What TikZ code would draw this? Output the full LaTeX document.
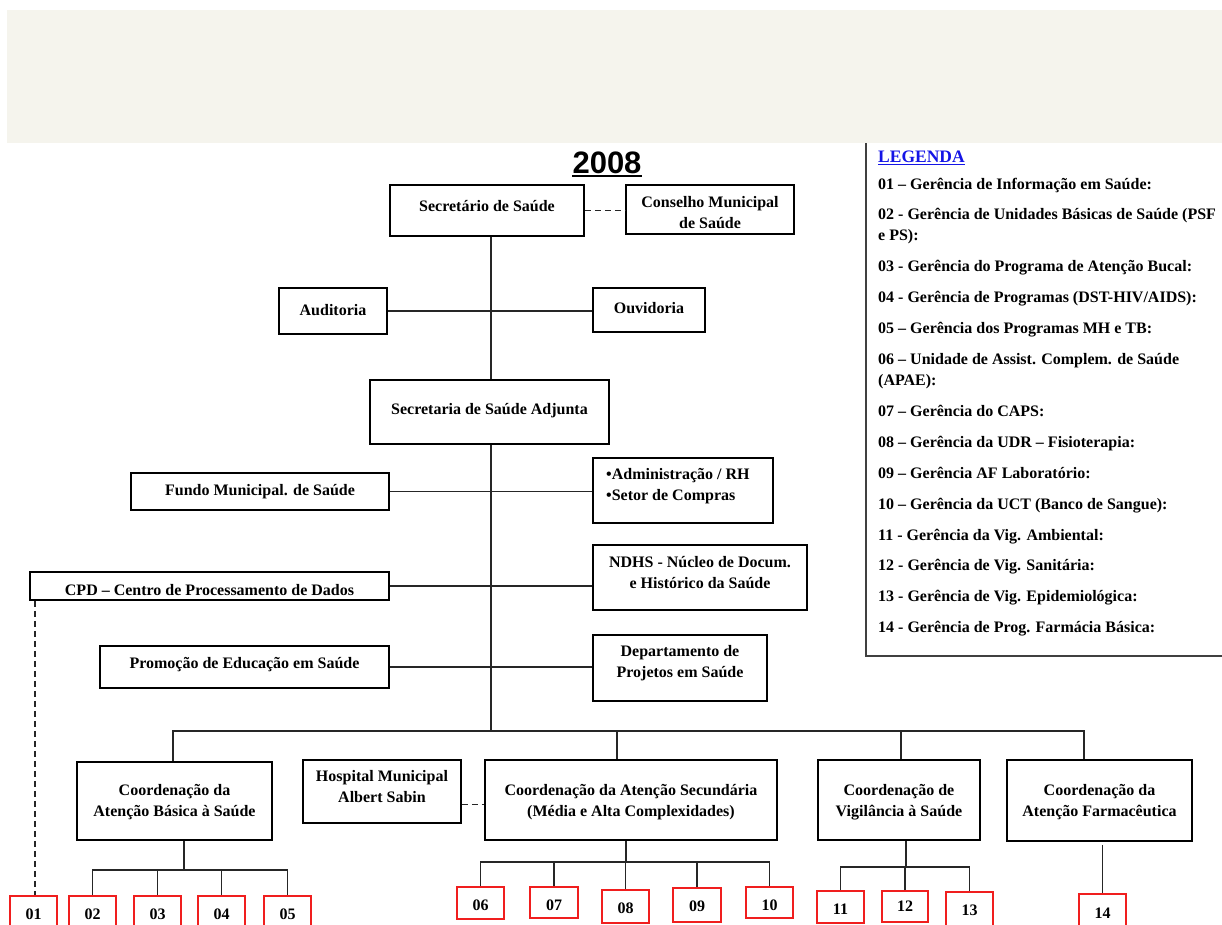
\documentclass[tikz,border=0pt]{standalone}
\usepackage{fontspec}
\setmainfont{Liberation Serif}
\newfontfamily\yearfont{Liberation Sans}
\definecolor{band}{RGB}{245,244,237}
\definecolor{legblue}{RGB}{20,20,230}
\definecolor{boxred}{RGB}{240,30,30}
% #1 style, #2 name, #3 x1, #4 y1, #5 x2, #6 y2, #7 text centre y, #8 text
\newcommand\obox[8][box]{%
  \node[#1, minimum width={(#5-#3)*1pt}, minimum height={(#6-#4)*1pt}] (#2) at ({(#3+#5)/2},{(#4+#6)/2}) {};
  \node[txt] (#2-t) at ({(#3+#5)/2},#7) {#8};
}
\begin{document}
\begin{tikzpicture}[x=1pt,y=-1pt,
  box/.style={draw=black, line width=1.6pt, inner sep=0pt},
  redbox/.style={draw=boxred, line width=1.7pt, inner sep=0pt},
  txt/.style={font=\bfseries\fontsize{16}{21}\selectfont, align=center, inner sep=0pt},
  conn/.style={draw=black!85, line width=1.6pt},
  dline/.style={conn, dash pattern=on 6pt off 4pt},
  leg/.style={font=\bfseries\fontsize{16}{21}\selectfont, anchor=base west, inner sep=0pt}]
\useasboundingbox (0,0) rectangle (1222,924);
\fill[band] (7,10) rectangle (1222,143);

% title
\node[font=\yearfont\bfseries\fontsize{31}{31}\selectfont, anchor=base, inner sep=0pt] (year) at (607,173) {2008};
\draw[line width=2.2pt] ([yshift=-3pt]year.base west) -- ([yshift=-3pt]year.base east);

% legend
\draw[line width=1.6pt, draw=black!75] (866,143) -- (866,656) -- (1222,656);
\node[font=\bfseries\fontsize{17.5}{21}\selectfont, text=legblue, anchor=base west, inner sep=0pt] (legt) at (878,162) {LEGENDA};
\draw[legblue, line width=1.3pt] ([yshift=-2.5pt]legt.base west) -- ([yshift=-2.5pt]legt.base east);
\node[leg] (l01) at (878,189.0) {01 – Gerência de Informação em Saúde:};
\node[leg] (l02) at (878,219.9) {02 - Gerência de Unidades Básicas de Saúde (PSF};
\node[leg] (l02b) at (878,240.9) {e PS):};
\node[leg] (l03) at (878,271.8) {03 - Gerência do Programa de Atenção Bucal:};
\node[leg] (l04) at (878,302.7) {04 - Gerência de Programas (DST-HIV/AIDS):};
\node[leg] (l05) at (878,333.6) {05 – Gerência dos Programas MH e TB:};
\node[leg] (l06) at (878,364.5) {06 – Unidade de Assist. Complem. de Saúde};
\node[leg] (l06b) at (878,385.5) {(APAE):};
\node[leg] (l07) at (878,416.4) {07 – Gerência do CAPS:};
\node[leg] (l08) at (878,447.3) {08 – Gerência da UDR – Fisioterapia:};
\node[leg] (l09) at (878,478.2) {09 – Gerência AF Laboratório:};
\node[leg] (l10) at (878,509.1) {10 – Gerência da UCT (Banco de Sangue):};
\node[leg] (l11) at (878,540.0) {11 - Gerência da Vig. Ambiental:};
\node[leg] (l12) at (878,570.9) {12 - Gerência de Vig. Sanitária:};
\node[leg] (l13) at (878,601.8) {13 - Gerência de Vig. Epidemiológica:};
\node[leg] (l14) at (878,632.7) {14 - Gerência de Prog. Farmácia Básica:};

% boxes
\obox{sec}{390}{185}{584}{236}{206}{Secretário de Saúde}
\obox{cons}{626}{185}{794}{234}{213}{Conselho Municipal\\de Saúde}
\obox{aud}{279}{288}{387}{334}{310}{Auditoria}
\obox{ouv}{593}{288}{705}{332}{308}{Ouvidoria}
\obox{adj}{370}{380}{609}{444}{411}{Secretaria de Saúde Adjunta}
\obox{fundo}{131}{473}{389}{510}{492}{Fundo Municipal. de Saúde}
\node[box, minimum width=180pt, minimum height=65pt] (adm) at (683,490.5) {};
\node[txt, align=left, anchor=west] (adm-t) at (606,486) {•Administração / RH\\•Setor de Compras};
\obox{cpd}{30}{572}{389}{600}{590}{CPD – Centro de Processamento de Dados}
\obox{ndhs}{593}{545}{807}{610}{573}{NDHS - Núcleo de Docum.\\e Histórico da Saúde}
\obox{prom}{100}{646}{389}{688}{665}{Promoção de Educação em Saúde}
\obox{dep}{593}{635}{767}{701}{663}{Departamento de\\Projetos em Saúde}
\obox{cab}{77}{762}{272}{840}{802}{Coordenação da\\Atenção Básica à Saúde}
\obox{hosp}{303}{760}{461}{823}{787}{Hospital Municipal\\Albert Sabin}
\obox{csec}{485}{760}{777}{840}{802}{Coordenação da Atenção Secundária\\(Média e Alta Complexidades)}
\obox{cvig}{818}{760}{980}{840}{802}{Coordenação de\\Vigilância à Saúde}
\obox{cfar}{1007}{760}{1192}{841}{802}{Coordenação da\\Atenção Farmacêutica}

% numbered boxes
\obox[redbox]{b01}{10}{896}{57}{928}{914}{01}
\obox[redbox]{b02}{69}{896}{116}{928}{914}{02}
\obox[redbox]{b03}{134}{896}{181}{928}{914}{03}
\obox[redbox]{b04}{198}{896}{245}{928}{914}{04}
\obox[redbox]{b05}{264}{896}{311}{928}{914}{05}
\obox[redbox]{b06}{457}{887}{504}{919}{905}{06}
\obox[redbox]{b07}{530}{887}{578}{918}{905}{07}
\obox[redbox]{b08}{602}{890}{649}{923}{908}{08}
\obox[redbox]{b09}{673}{888}{721}{922}{906}{09}
\obox[redbox]{b10}{746}{887}{793}{918}{905}{10}
\obox[redbox]{b11}{817}{891}{864}{923}{909}{11}
\obox[redbox]{b12}{882}{891}{928}{922}{906}{12}
\obox[redbox]{b13}{946}{892}{993}{928}{910}{13}
\obox[redbox]{b14}{1079}{894}{1126}{928}{913}{14}

% junction coordinates
\coordinate (trunk) at (491,731);
\coordinate (busL) at (173,731);
\coordinate (busR) at (1084,731);
\coordinate (dsec) at (617,731);
\coordinate (dvig) at (901,731);
\coordinate (jcab) at (184,870);
\coordinate (jsec) at (626,862);
\coordinate (jvig) at (906,867);

% main trunk
\draw[conn] (sec.south -| trunk) -- (adj.north -| trunk);
\draw[conn] (adj.south -| trunk) -- (trunk);
\draw[conn] (aud.east) -- (aud.east -| ouv.west);
\draw[conn] (fundo.east) -- (fundo.east -| adm.west);
\draw[conn] (cpd.east) -- (cpd.east -| ndhs.west);
\draw[conn] (prom.east) -- (prom.east -| dep.west);
\draw[dline] (sec.east) -- (sec.east -| cons.west);
\draw[dline] ([yshift=-13pt]hosp.east) -- ([yshift=-13pt]hosp.east -| csec.west);
\draw[dline] ([xshift=6pt]cpd.south west) -- ([xshift=6pt]cpd.south west |- b01.north);

% bus
\draw[conn] (cab.north -| busL) -- (busL) -- (busR) -- (cfar.north -| busR);
\draw[conn] (dsec) -- (dsec |- csec.north);
\draw[conn] (dvig) -- (dvig |- cvig.north);

% Atencao Basica
\draw[conn] (cab.south -| jcab) -- (jcab);
\draw[conn] (b02.north) -- (b02.north |- jcab) -- (b05.north |- jcab) -- (b05.north);
\draw[conn] (b03.north) -- (b03.north |- jcab);
\draw[conn] (b04.north) -- (b04.north |- jcab);

% Atencao Secundaria
\draw[conn] (csec.south -| jsec) -- (jsec);
\draw[conn] (b06.north) -- (b06.north |- jsec) -- (b10.north |- jsec) -- (b10.north);
\draw[conn] (b07.north) -- (b07.north |- jsec);
\draw[conn] (b08.north) -- (b08.north |- jsec);
\draw[conn] (b09.north) -- (b09.north |- jsec);

% Vigilancia
\draw[conn] (cvig.south -| jvig) -- (jvig);
\draw[conn] (b11.north) -- (b11.north |- jvig) -- (b13.north |- jvig) -- (b13.north);
\draw[conn] (b12.north) -- (b12.north |- jvig);

% Farmaceutica
\draw[conn] ([yshift=-3pt]b14.north |- cfar.south) -- (b14.north);
\end{tikzpicture}
\end{document}
